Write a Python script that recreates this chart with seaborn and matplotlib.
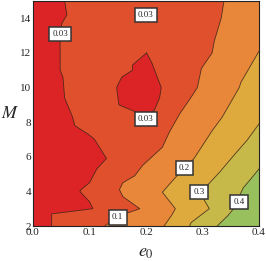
import matplotlib
matplotlib.use('Agg')
import matplotlib.pyplot as plt
import seaborn as sns

# axis ranges
e0_range = [0.0, 0.4]
M_range = [2, 15]

# contour lines, each listed from top/right end to bottom end
c003_M = [15.0, 14.2, 13.7, 13.1, 11.0, 10.6, 9.4, 8.3, 7.8, 7.25, 7.0, 5.9, 5.3, 4.5, 4.1, 4.0, 3.4, 3.0, 2.7, 2.0]
c003_e = [0.056, 0.060, 0.051, 0.048, 0.048, 0.053, 0.056, 0.070, 0.074, 0.100, 0.109, 0.130, 0.113, 0.100, 0.085, 0.083, 0.100, 0.106, 0.033, 0.033]

island_M = [12.0, 11.45, 10.0, 9.4, 8.7, 8.4, 8.6, 9.0, 10.0, 10.6, 11.0, 11.3, 12.0]
island_e = [0.201, 0.210, 0.227, 0.224, 0.215, 0.200, 0.181, 0.152, 0.148, 0.157, 0.176, 0.176, 0.201]

c01_M = [15.0, 14.0, 12.7, 12.0, 11.1, 10.0, 9.3, 8.5, 7.4, 6.55, 5.5, 4.9, 4.5, 4.1, 3.7, 3.0, 2.75, 2.3, 2.0]
c01_e = [0.338, 0.333, 0.321, 0.317, 0.298, 0.291, 0.277, 0.260, 0.241, 0.229, 0.194, 0.180, 0.159, 0.153, 0.159, 0.189, 0.167, 0.140, 0.127]

c02_M = [12.1, 10.3, 10.0, 8.3, 7.5, 5.9, 4.8, 3.95, 3.0, 2.6, 2.0]
c02_e = [0.400, 0.368, 0.365, 0.335, 0.317, 0.285, 0.252, 0.229, 0.252, 0.245, 0.232]

c03_M = [7.9, 6.96, 6.1, 5.1, 4.4, 3.5, 3.0, 2.2, 2.0]
c03_e = [0.400, 0.379, 0.356, 0.330, 0.310, 0.303, 0.312, 0.280, 0.277]

c04_M = [5.3, 4.7, 4.2, 3.0, 2.6, 2.0]
c04_e = [0.400, 0.385, 0.372, 0.355, 0.345, 0.326]

# contour labels: text, e0, M
label_text = ['0.03', '0.03', '0.03', '0.1', '0.2', '0.3', '0.4']
label_e = [0.048, 0.200, 0.200, 0.150, 0.268, 0.294, 0.365]
label_M = [13.1, 14.2, 8.2, 2.5, 5.35, 3.96, 3.4]

# band colours, low -> high
band_colors = ['#DC2427', '#E0502D', '#E8873A', '#DEAA3E', '#C6B94A', '#98C05C']

sns.set_style('ticks')
plt.rcParams['font.family'] = ['Liberation Serif', 'DejaVu Serif']
plt.rcParams['mathtext.fontset'] = 'stix'

fig = plt.figure(figsize=(2.66, 2.61), dpi=100)
ax = fig.add_axes([33 / 266, 1 - 226 / 261, 226 / 266, 225 / 261])

x0, x1 = e0_range
y0, y1 = M_range

# paint bands in layers: highest band everywhere, then each lower band left of its contour
ax.fill([x0, x1, x1, x0], [y0, y0, y1, y1], color=band_colors[5], lw=0)
layers = [(c04_e, c04_M, band_colors[4]), (c03_e, c03_M, band_colors[3]),
          (c02_e, c02_M, band_colors[2])]
for ce, cm, col in layers:
    ax.fill([x0, x1] + ce + [x0], [y1, y1] + cm + [y0], color=col, lw=0)
for ce, cm, col in [(c01_e, c01_M, band_colors[1]), (c003_e, c003_M, band_colors[0])]:
    ax.fill([x0] + ce + [x0], [y1] + cm + [y0], color=col, lw=0)
ax.fill(island_e, island_M, color=band_colors[0], lw=0)

# contour lines
for ce, cm in [(c003_e, c003_M), (island_e, island_M), (c01_e, c01_M),
               (c02_e, c02_M), (c03_e, c03_M), (c04_e, c04_M)]:
    sns.lineplot(x=ce, y=cm, sort=False, estimator=None, ax=ax,
                 color='#3a2418', lw=0.6, alpha=0.85)

for t, xe, ym in zip(label_text, label_e, label_M):
    ax.text(xe, ym, t, fontsize=6.5, ha='center', va='center', zorder=5,
            bbox=dict(boxstyle='square,pad=0.35', fc='white', ec='#333333', lw=1.1))

ax.set_xlim(x0, x1)
ax.set_ylim(y0, y1)
ax.set_xticks([0.0, 0.1, 0.2, 0.3, 0.4])
ax.set_xticks([i * 0.02 for i in range(21)], minor=True)
ax.set_yticks([2, 4, 6, 8, 10, 12, 14])
ax.set_yticks([2 + i * 0.5 for i in range(27)], minor=True)
ax.tick_params(which='both', direction='in', top=True, right=True, labelsize=8,
               color='#222222', width=0.6)
ax.tick_params(axis='x', pad=1.5)
ax.tick_params(axis='y', pad=1.5)
ax.tick_params(which='major', length=4)
ax.tick_params(which='minor', length=2)
for s in ax.spines.values():
    s.set_color('#222222')
    s.set_linewidth(0.8)

ax.set_xlabel('$e_0$', fontsize=13, va='center')
ax.set_ylabel('$M$', fontsize=13, rotation=0, va='center', ha='center')
ax.xaxis.set_label_coords(0.5, -0.118)
ax.yaxis.set_label_coords(-0.1, 0.5)

fig.savefig('out.png', dpi=100)
